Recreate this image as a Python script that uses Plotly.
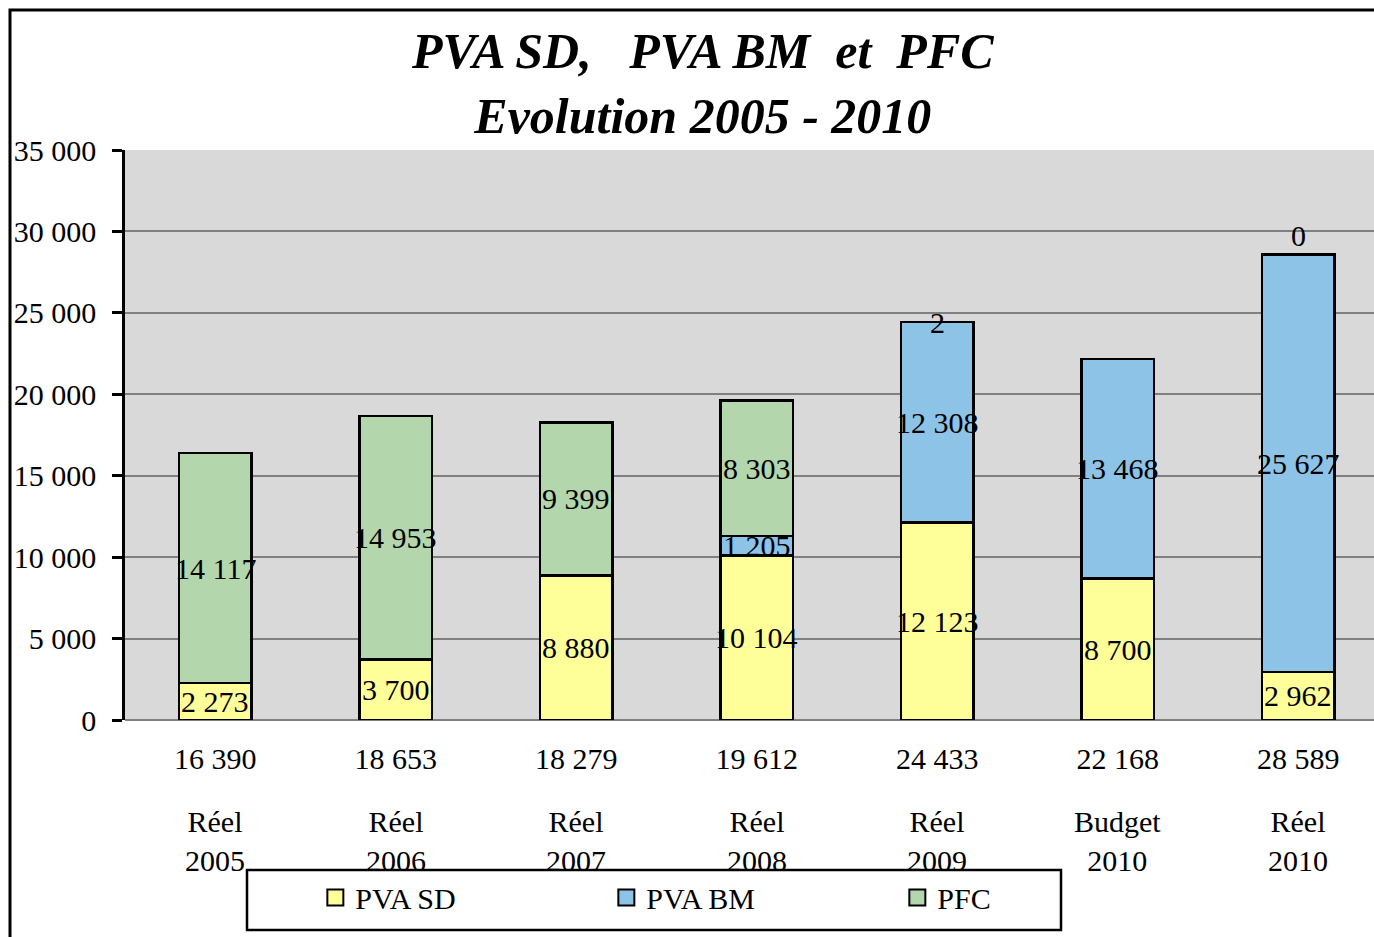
import plotly.graph_objects as go

categories = ["Réel 2005", "Réel 2006", "Réel 2007", "Réel 2008", "Réel 2009", "Budget 2010", "Réel 2010"]
pva_sd = [2273, 3700, 8880, 10104, 12123, 8700, 2962]
pva_bm = [None, None, None, 1205, 12308, 13468, 25627]
pfc = [14117, 14953, 9399, 8303, 2, None, 0]
y_ticks = [0, 5000, 10000, 15000, 20000, 25000, 30000, 35000]

series = [("PVA SD", pva_sd, "#FFFF99"), ("PVA BM", pva_bm, "#8DC3E6"), ("PFC", pfc, "#B3D6AC")]

FONT = "Liberation Serif, Times New Roman, serif"


def fmt(v):
    return f"{v:,}".replace(",", " ")


fig = go.Figure()
annotations = []
base = [0] * len(categories)
for name, vals, color in series:
    fig.add_trace(go.Bar(
        x=categories, y=[v if v is not None else 0 for v in vals], name=name,
        marker=dict(color=color, line=dict(color="black", width=2.5)),
        hoverinfo="skip", showlegend=False,
    ))
    for i, v in enumerate(vals):
        if v is None:
            continue
        if v == 0:
            annotations.append(dict(x=categories[i], y=base[i], xref="x", yref="y", text=fmt(v),
                                    showarrow=False, yanchor="bottom", font=dict(size=30, color="black", family=FONT)))
        else:
            annotations.append(dict(x=categories[i], y=base[i] + v / 2, xref="x", yref="y", text=fmt(v),
                                    showarrow=False, yanchor="middle", font=dict(size=30, color="black", family=FONT)))
        base[i] += v

# legend-only entries with larger square symbols
for name, vals, color in series:
    fig.add_trace(go.Scatter(
        x=[None], y=[None], mode="markers", name=name,
        marker=dict(symbol="square", size=16, color=color, line=dict(color="black", width=2)),
        hoverinfo="skip",
    ))

totals = base[:]

for c in categories:
    annotations.append(dict(x=c, y=-0.212, xref="x", yref="paper", text=c.replace(" ", "<br>"),
                            showarrow=False, yanchor="middle", font=dict(size=30, color="black", family=FONT)))

annotations.append(dict(
    x=(702 - 125) / 1249, y=(720 - 83) / 570, xref="paper", yref="paper",
    text="<b><i>PVA SD,\u00a0\u00a0\u00a0PVA BM\u00a0\u00a0et\u00a0\u00a0PFC</i></b><br><b><i>Evolution 2005 - 2010</i></b>",
    showarrow=False, xanchor="center", yanchor="middle",
    font=dict(size=50, family=FONT, color="black"),
))

fig.update_layout(
    width=1374, height=937,
    margin=dict(l=125, r=0, t=150, b=217),
    barmode="stack", bargap=0.6,
    paper_bgcolor="white", plot_bgcolor="#D9D9D9",
    separators=". ",
    font=dict(family=FONT, size=30, color="black"),
    xaxis=dict(
        range=[-0.5, 6.42], tickvals=categories, ticktext=[fmt(t) for t in totals],
        ticks="", showgrid=False, showline=False, zeroline=False,
        tickfont=dict(size=30, family=FONT, color="black"), ticklabelstandoff=18,
    ),
    yaxis=dict(
        range=[0, 35000], tickvals=y_ticks, tickformat=",d",
        showgrid=True, gridcolor="#808080", gridwidth=2,
        zeroline=True, zerolinecolor="#808080", zerolinewidth=2,
        showline=True, linecolor="black", linewidth=2.5,
        ticks="outside", ticklen=10, tickwidth=2.5, tickcolor="black",
        tickfont=dict(size=30, family=FONT, color="black"), ticklabelstandoff=10,
    ),
    legend=dict(
        orientation="h", x=0.1524, y=-0.266, xanchor="left", yanchor="top",
        traceorder="normal",
        font=dict(size=30, family=FONT, color="black"),
        entrywidth=246, entrywidthmode="pixels",
        bgcolor="rgba(0,0,0,0)", borderwidth=0,
    ),
    annotations=annotations,
    shapes=[
        dict(type="rect", xref="paper", yref="paper", x0=(247 - 125) / 1249, x1=(1061 - 125) / 1249,
             y0=(720 - 930) / 570, y1=(720 - 870) / 570, line=dict(color="black", width=2.5),
             fillcolor="white", layer="above"),
        dict(type="rect", xref="paper", yref="paper", x0=(10 - 125) / 1249, x1=1.05,
             y0=-0.45, y1=(720 - 10) / 570, line=dict(color="black", width=3), layer="above"),
    ],
)

fig.write_html("out.html", config={"displayModeBar": False},
               post_script="document.body.style.margin='0';")
